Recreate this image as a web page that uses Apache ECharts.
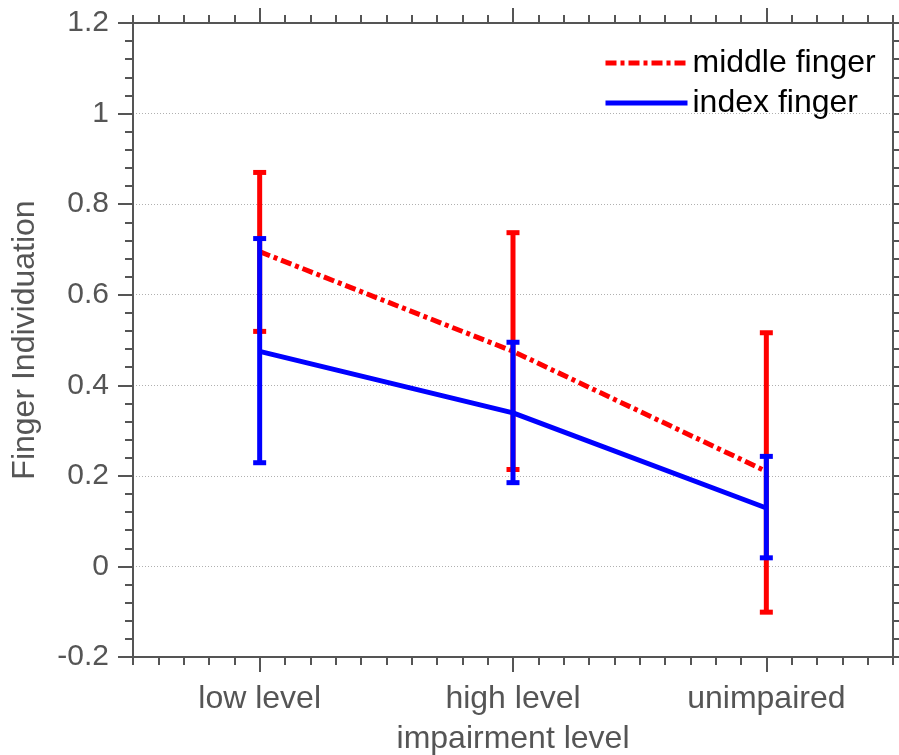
<!DOCTYPE html>
<html>
<head>
<meta charset="utf-8">
<script src="https://cdn.jsdelivr.net/npm/echarts@6/dist/echarts.min.js"></script>
<style>
  html, body { margin: 0; padding: 0; background: #fff; }
  #chart { width: 899px; height: 755px; }
</style>
</head>
<body>
<div id="chart"></div>
<script>
const categories = ['low level', 'high level', 'unimpaired'];
const xPositions = [1, 2, 3];

const middleMean = [0.695, 0.475, 0.210];
const middleLow = [0.519, 0.214, -0.101];
const middleHigh = [0.870, 0.737, 0.516];

const indexMean = [0.475, 0.339, 0.129];
const indexLow = [0.229, 0.185, 0.019];
const indexHigh = [0.724, 0.495, 0.243];

const FONT = "'Liberation Sans', Arial, sans-serif";
const AXIS_COLOR = '#555555';
const RED = '#ff0000';
const BLUE = '#0000ff';

function errorRender(color) {
  return function (params, api) {
    const x = api.value(0);
    const lo = api.coord([x, api.value(1)]);
    const hi = api.coord([x, api.value(2)]);
    const half = 6.5;
    return {
      type: 'group',
      children: [
        { type: 'line', shape: { x1: lo[0], y1: lo[1], x2: hi[0], y2: hi[1] }, style: { stroke: color, lineWidth: 5 } },
        { type: 'line', shape: { x1: lo[0] - half, y1: lo[1], x2: lo[0] + half, y2: lo[1] }, style: { stroke: color, lineWidth: 5 } },
        { type: 'line', shape: { x1: hi[0] - half, y1: hi[1], x2: hi[0] + half, y2: hi[1] }, style: { stroke: color, lineWidth: 5 } }
      ]
    };
  };
}

const chart = echarts.init(document.getElementById('chart'));

const majorX = {
  type: 'value', min: 0.5, max: 3.5, gridIndex: 0,
  axisLine: { show: true, onZero: false, lineStyle: { color: AXIS_COLOR, width: 2 } },
  axisTick: { show: true, customValues: xPositions, length: 15, lineStyle: { color: AXIS_COLOR, width: 2 } },
  splitLine: { show: false }
};
const minorX = {
  type: 'value', min: 0.5, max: 3.5, interval: 0.1, gridIndex: 0,
  axisLine: { show: false, onZero: false },
  axisTick: { show: true, length: 8, lineStyle: { color: AXIS_COLOR, width: 2 } },
  axisLabel: { show: false },
  splitLine: { show: false }
};

chart.setOption({
  animation: false,
  backgroundColor: '#ffffff',
  grid: { left: 133, right: 6, top: 23, bottom: 98, containLabel: false, outerBoundsMode: 'none' },
  legend: {
    orient: 'vertical',
    left: 598,
    top: 42,
    itemWidth: 82,
    itemHeight: 20,
    itemGap: 8,
    itemStyle: { opacity: 0 },
    lineStyle: { width: 5 },
    textStyle: { fontFamily: FONT, fontSize: 32, color: '#000' },
    data: ['middle finger', 'index finger']
  },
  xAxis: [
    Object.assign({}, majorX, {
      position: 'bottom',
      axisLabel: {
        show: true, customValues: xPositions,
        formatter: function (v) { const i = xPositions.indexOf(Math.round(v)); return i >= 0 ? categories[i] : ''; },
        fontFamily: FONT, fontSize: 32, color: AXIS_COLOR, margin: 26
      },
      name: 'impairment level',
      nameLocation: 'middle',
      nameGap: 66,
      nameTextStyle: { fontFamily: FONT, fontSize: 32, color: AXIS_COLOR }
    }),
    Object.assign({}, minorX, { position: 'bottom' }),
    Object.assign({}, majorX, { position: 'top', axisLabel: { show: false } }),
    Object.assign({}, minorX, { position: 'top' })
  ],
  yAxis: [
    {
      type: 'value', min: -0.2, max: 1.2, interval: 0.2, position: 'left',
      axisLine: { show: true, onZero: false, lineStyle: { color: AXIS_COLOR, width: 2 } },
      axisTick: { show: true, length: 15, lineStyle: { color: AXIS_COLOR, width: 2 } },
      minorTick: { show: true, splitNumber: 5, length: 8, lineStyle: { color: AXIS_COLOR, width: 2 } },
      axisLabel: { fontFamily: FONT, fontSize: 30, color: AXIS_COLOR, margin: 24 },
      splitLine: { show: true, lineStyle: { color: '#b0b0b0', width: 1, type: [1, 2] } },
      name: 'Finger Individuation',
      nameLocation: 'middle',
      nameGap: 92,
      nameTextStyle: { fontFamily: FONT, fontSize: 32, color: AXIS_COLOR }
    },
    {
      type: 'value', min: -0.2, max: 1.2, interval: 0.2, position: 'right',
      axisLine: { show: true, onZero: false, lineStyle: { color: AXIS_COLOR, width: 2 } },
      axisTick: { show: true, length: 15, lineStyle: { color: AXIS_COLOR, width: 2 } },
      minorTick: { show: true, splitNumber: 5, length: 8, lineStyle: { color: AXIS_COLOR, width: 2 } },
      axisLabel: { show: false },
      splitLine: { show: false }
    }
  ],
  series: [
    {
      name: 'middle error', type: 'custom', xAxisIndex: 0, yAxisIndex: 0, z: 3,
      renderItem: errorRender(RED),
      data: xPositions.map((x, i) => [x, middleLow[i], middleHigh[i]])
    },
    {
      name: 'middle finger', type: 'line', xAxisIndex: 0, yAxisIndex: 0, z: 4,
      symbol: 'none', color: RED,
      lineStyle: { color: RED, width: 5, type: [11, 4, 4, 4] },
      data: xPositions.map((x, i) => [x, middleMean[i]])
    },
    {
      name: 'index error', type: 'custom', xAxisIndex: 0, yAxisIndex: 0, z: 5,
      renderItem: errorRender(BLUE),
      data: xPositions.map((x, i) => [x, indexLow[i], indexHigh[i]])
    },
    {
      name: 'index finger', type: 'line', xAxisIndex: 0, yAxisIndex: 0, z: 6,
      symbol: 'none', color: BLUE,
      lineStyle: { color: BLUE, width: 5 },
      data: xPositions.map((x, i) => [x, indexMean[i]])
    }
  ]
});
</script>
</body>
</html>
